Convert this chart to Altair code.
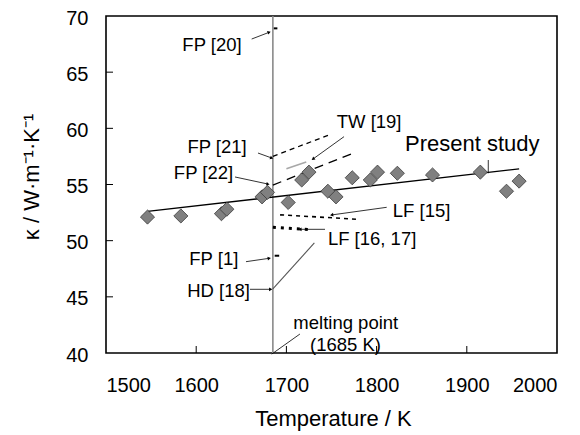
import math
import altair as alt
import pandas as pd

# ---------------- data ----------------
# Present study: measured thermal conductivity of liquid Si
T_meas = [1546, 1583, 1628, 1634, 1673, 1679, 1702, 1717, 1725, 1746,
          1755, 1773, 1793, 1801, 1823, 1862, 1915, 1944, 1958]
k_meas = [52.1, 52.2, 52.4, 52.8, 53.9, 54.3, 53.4, 55.4, 56.1, 54.4,
          53.9, 55.6, 55.4, 56.1, 56.0, 55.85, 56.1, 54.4, 55.3]
# Present study: fitted line
T_fit = [1546, 1958]
k_fit = [52.6, 56.4]

# literature curves
FP21_T, FP21_k = [1685, 1750], [57.5, 59.5]
FP22_T, FP22_k = [1685, 1776], [54.95, 57.85]
TW19_T, TW19_k = [1700, 1722], [56.4, 57.0]
LF15_T, LF15_k = [1693, 1780], [52.3, 51.9]
LF1617_T, LF1617_k = [1685, 1724], [51.2, 51.0]
HD18_T, HD18_k = [1685, 1731], [45.7, 49.8]
FP20_T, FP20_k = [1686, 1690], [68.9, 68.9]
FP1_T, FP1_k = [1687, 1692], [48.66, 48.66]

melt_T = [1685]
melt_k = [40, 70]

# tick values
x_ticks = [1500, 1600, 1700, 1800, 1900, 2000]
y_ticks = [40, 45, 50, 55, 60, 65, 70]

# axis titles
x_title = "Temperature / K"
y_title = ["κ / W·m⁻¹·K⁻¹"]

# annotation labels
lab_text = ["FP [20]", "FP [21]", "FP [22]", "FP [1]", "HD [18]"]
lab_T = [1650.4, 1656, 1641, 1646.7, 1659.6]
lab_k = [66.91, 57.78, 55.49, 47.83, 45.01]

labR_text = ["TW [19]", "LF [15]", "LF [16, 17]", "melting point", "(1685 K)"]
labR_T = [1755.8, 1818, 1746, 1707.7, 1726.2]
labR_k = [60.06, 52.1, 49.57, 42.1, 40.2]

present_text = ["Present study"]
present_T = [1831.5]
present_k = [57.98]

# pointer lines (start -> end)
arr_T1 = [1661.5, 1668.5, 1643, 1763.9, 1655.2, 1659.6, 1811.2, 1742.8]
arr_k1 = [67.95, 57.8, 55.67, 59.26, 48.13, 45.67, 52.97, 51.01]
arr_T2 = [1680.9, 1683.7, 1679.6, 1729.5, 1681, 1682.6, 1750.2, 1715]
arr_k2 = [68.55, 57.36, 55.04, 57.27, 48.43, 45.67, 52.29, 51.01]

plain_T1 = [1715, 1923.8]
plain_k1 = [41.69, 57.18]
plain_T2 = [1683.7, 1923.8]
plain_k2 = [39.9, 56.0]

# ---------------- chart ----------------
W, H = 451, 337
FONT = "Liberation Sans"

xscale = alt.Scale(domain=[1500, 2000], nice=False, zero=False)
yscale = alt.Scale(domain=[40, 70], nice=False, zero=False)

xaxis = alt.Axis(values=x_ticks, format="d", title=x_title, grid=False,
                 domain=False, ticks=False, labelFont=FONT, labelFontSize=20,
                 labelColor="black", labelPadding=22, titleFont=FONT, titleFontSize=22,
                 titleFontWeight="normal", titleColor="black",
                 titleBaseline="alphabetic", titleY=72, titleX=227)
yaxis = alt.Axis(values=y_ticks, format="d", title=None, grid=False,
                 domain=False, ticks=False, labelFont=FONT, labelFontSize=20,
                 labelColor="black", labelPadding=18, labelOffset=2)


def X(field="T"):
    return alt.X(f"{field}:Q", scale=xscale, axis=xaxis)


def Y(field="k"):
    return alt.Y(f"{field}:Q", scale=yscale, axis=yaxis)


def line(Ts, ks, **kw):
    df = pd.DataFrame({"T": Ts, "k": ks})
    return alt.Chart(df).mark_line(**kw).encode(x=X(), y=Y())


layers = []

# inward ticks
layers.append(alt.Chart(pd.DataFrame({"T": x_ticks[1:-1]})).mark_rule(
    color="black", strokeWidth=1).encode(x=X(), y=alt.value(H), y2=alt.value(H - 7)))
layers.append(alt.Chart(pd.DataFrame({"k": y_ticks[1:-1]})).mark_rule(
    color="black", strokeWidth=1).encode(y=Y(), x=alt.value(0), x2=alt.value(7)))

# melting point line
layers.append(alt.Chart(pd.DataFrame({"T": melt_T * 2, "k": melt_k})).mark_line(
    color="#8a8a8a", strokeWidth=1.6).encode(x=X(), y=Y()))

# literature curves
layers.append(line(FP21_T, FP21_k, color="black", strokeWidth=1.3, strokeDash=[5, 4]))
layers.append(line(FP22_T, FP22_k, color="black", strokeWidth=1.3, strokeDash=[9, 6]))
layers.append(line(TW19_T, TW19_k, color="#a8a8a8", strokeWidth=1.6))
layers.append(line(LF15_T, LF15_k, color="black", strokeWidth=1.6, strokeDash=[4, 4]))
layers.append(line(LF1617_T, LF1617_k, color="black", strokeWidth=3, strokeDash=[3, 5]))
layers.append(line(HD18_T, HD18_k, color="#555555", strokeWidth=1.1))
layers.append(line(FP20_T, FP20_k, color="black", strokeWidth=2))
layers.append(line(FP1_T, FP1_k, color="black", strokeWidth=2))

# present study fit
layers.append(line(T_fit, k_fit, color="black", strokeWidth=1.3))

# measured points
layers.append(alt.Chart(pd.DataFrame({"T": T_meas, "k": k_meas})).mark_point(
    shape="diamond", size=200, filled=True, fill="#808080", stroke="#3a3a3a",
    strokeWidth=0.8, opacity=1).encode(x=X(), y=Y()))

# pointer lines
arr_df = pd.DataFrame({"T": arr_T1, "k": arr_k1, "T2": arr_T2, "k2": arr_k2})
sx, sy = W / 500.0, H / 30.0
arr_df["ang"] = [
    (math.degrees(math.atan2((t2 - t1) * sx, (k2 - k1) * sy)) + 360) % 360
    for t1, k1, t2, k2 in zip(arr_T1, arr_k1, arr_T2, arr_k2)
]
layers.append(alt.Chart(arr_df).mark_rule(color="black", strokeWidth=0.8).encode(
    x=X(), y=Y(), x2="T2:Q", y2="k2:Q"))
layers.append(alt.Chart(arr_df).mark_point(
    shape="triangle-up", size=14, filled=True, color="black", opacity=1).encode(
    x=X("T2"), y=Y("k2"), angle=alt.Angle("ang:Q", scale=None)))

plain_df = pd.DataFrame({"T": plain_T1, "k": plain_k1, "T2": plain_T2, "k2": plain_k2})
layers.append(alt.Chart(plain_df).mark_rule(color="black", strokeWidth=0.8).encode(
    x=X(), y=Y(), x2="T2:Q", y2="k2:Q"))

# labels
layers.append(alt.Chart(pd.DataFrame({"T": lab_T, "k": lab_k, "t": lab_text})).mark_text(
    align="right", baseline="alphabetic", font=FONT, fontSize=18.5, color="black").encode(
    x=X(), y=Y(), text="t:N"))
layers.append(alt.Chart(pd.DataFrame({"T": labR_T, "k": labR_k, "t": labR_text})).mark_text(
    align="left", baseline="alphabetic", font=FONT, fontSize=18.5, color="black").encode(
    x=X(), y=Y(), text="t:N"))
layers.append(alt.Chart(pd.DataFrame({"T": present_T, "k": present_k, "t": present_text})).mark_text(
    align="left", baseline="alphabetic", font=FONT, fontSize=22, color="black").encode(
    x=X(), y=Y(), text="t:N"))

# y-axis title as rotated text
layers.append(alt.Chart(pd.DataFrame({"t": y_title})).mark_text(
    angle=270, align="center", baseline="alphabetic", font=FONT, fontSize=22,
    color="black").encode(x=alt.value(-67), y=alt.value(161), text="t:N"))

chart = alt.layer(*layers).properties(
    width=W, height=H,
    autosize=alt.AutoSizeParams(type="none"),
    padding={"left": 98, "top": 8, "right": 15, "bottom": 80},
    background="white",
).configure_view(stroke="black", strokeWidth=1.6)

chart.save("out.html", embed_options={"renderer": "svg", "actions": False})
